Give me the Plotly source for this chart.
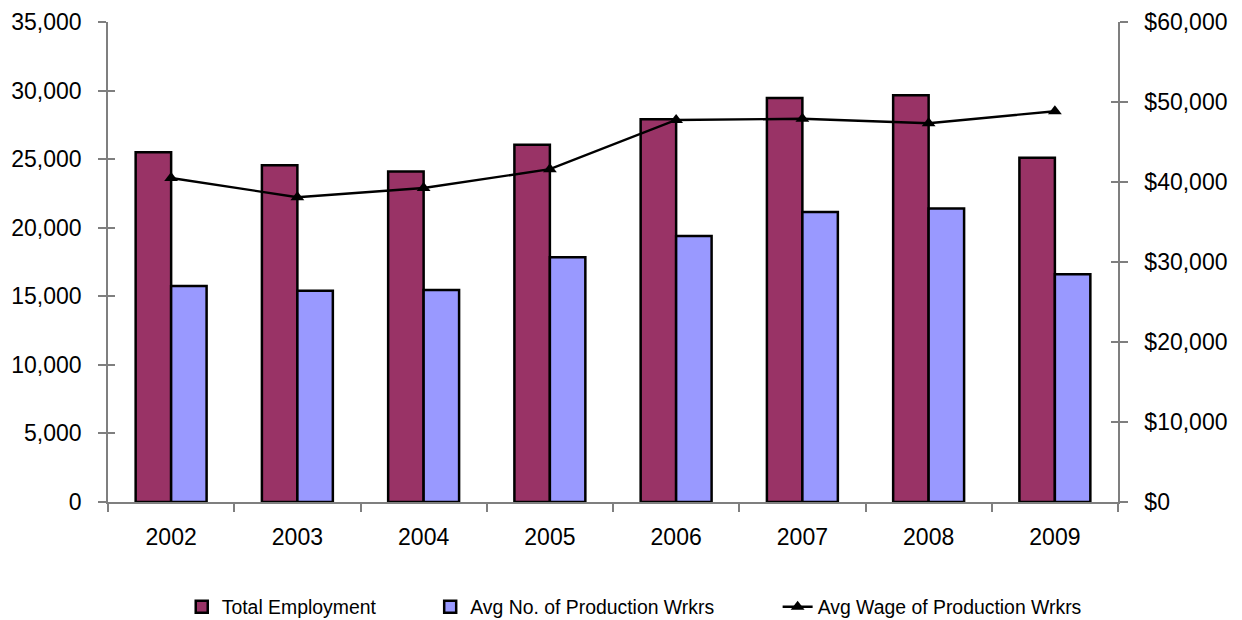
import plotly.graph_objects as go

years = ["2002", "2003", "2004", "2005", "2006", "2007", "2008", "2009"]
total_employment = [25500, 24550, 24100, 26050, 27900, 29450, 29650, 25100]
avg_production_wrkrs = [15750, 15400, 15450, 17850, 19400, 21150, 21400, 16600]
avg_wage = [40500, 38100, 39250, 41600, 47750, 47900, 47350, 48850]

left_ticks = [0, 5000, 10000, 15000, 20000, 25000, 30000, 35000]
right_ticks = [0, 10000, 20000, 30000, 40000, 50000, 60000]
left_labels = [f"{v:,}" for v in left_ticks]
right_labels = [f"${v:,}" for v in right_ticks]

FONT = "Arial, Liberation Sans, sans-serif"
AXIS_GREY = "#7f7f7f"

fig = go.Figure()

fig.add_trace(go.Bar(
    x=years, y=total_employment, name="Total Employment", legend="legend",
    marker=dict(color="#993366", line=dict(color="black", width=2.5)),
))
fig.add_trace(go.Bar(
    x=years, y=avg_production_wrkrs, name="Avg No. of Production Wrkrs",
    legend="legend2",
    marker=dict(color="#9999FF", line=dict(color="black", width=2.5)),
))
fig.add_trace(go.Scatter(
    x=years, y=avg_wage, name="Avg Wage of Production Wrkrs", yaxis="y2",
    legend="legend3", mode="lines+markers",
    line=dict(color="black", width=2.4),
    marker=dict(symbol="triangle-up", size=12, color="black"),
))

# empty helpers so the inner halves of the crossing tick marks get drawn
fig.add_trace(go.Scatter(x=[years[0]], y=[None], yaxis="y3", showlegend=False,
                         hoverinfo="skip"))
fig.add_trace(go.Scatter(x=[years[0]], y=[None], yaxis="y4", showlegend=False,
                         hoverinfo="skip"))

legend_style = dict(orientation="h", xanchor="left", y=-0.219, yanchor="middle",
                    font=dict(size=19.4), bgcolor="rgba(0,0,0,0)")

fig.update_layout(
    width=1242, height=620,
    margin=dict(l=108, r=124, t=22, b=118, autoexpand=False),
    paper_bgcolor="white", plot_bgcolor="white",
    font=dict(family=FONT, size=23, color="black"),
    barmode="group", bargap=0.438, bargroupgap=0,
    showlegend=True,
    legend=dict(x=0.073, **legend_style),
    legend2=dict(x=0.319, **legend_style),
    legend3=dict(x=0.663, **legend_style),
    xaxis=dict(
        type="category", showgrid=False, zeroline=False,
        showline=True, linecolor=AXIS_GREY, linewidth=1.5,
        ticks="outside", tickson="boundaries", ticklen=8,
        tickcolor=AXIS_GREY, tickwidth=1.5,
        tickfont=dict(size=23), ticklabelstandoff=14,
    ),
    yaxis=dict(
        range=[0, 35000], tickvals=left_ticks, ticktext=left_labels,
        showgrid=False, zeroline=False,
        showline=True, linecolor=AXIS_GREY, linewidth=1.5,
        ticks="outside", ticklen=8, tickcolor=AXIS_GREY, tickwidth=1.5,
        tickfont=dict(size=23), ticklabelstandoff=12,
    ),
    yaxis2=dict(
        range=[0, 60000], tickvals=right_ticks, ticktext=right_labels,
        overlaying="y", side="right", anchor="x",
        showgrid=False, zeroline=False,
        showline=True, linecolor=AXIS_GREY, linewidth=1.5,
        ticks="outside", ticklen=8, tickcolor=AXIS_GREY, tickwidth=1.5,
        tickfont=dict(size=23), ticklabelstandoff=12,
    ),
    yaxis3=dict(
        range=[0, 35000], tickvals=left_ticks, overlaying="y", side="left",
        anchor="x", showticklabels=False, showgrid=False, zeroline=False,
        showline=False, ticks="inside", ticklen=7, tickcolor=AXIS_GREY,
        tickwidth=1.5,
    ),
    yaxis4=dict(
        range=[0, 60000], tickvals=right_ticks, overlaying="y", side="right",
        anchor="x", showticklabels=False, showgrid=False, zeroline=False,
        showline=False, ticks="inside", ticklen=7, tickcolor=AXIS_GREY,
        tickwidth=1.5,
    ),
)

fig.write_html("out.html")
